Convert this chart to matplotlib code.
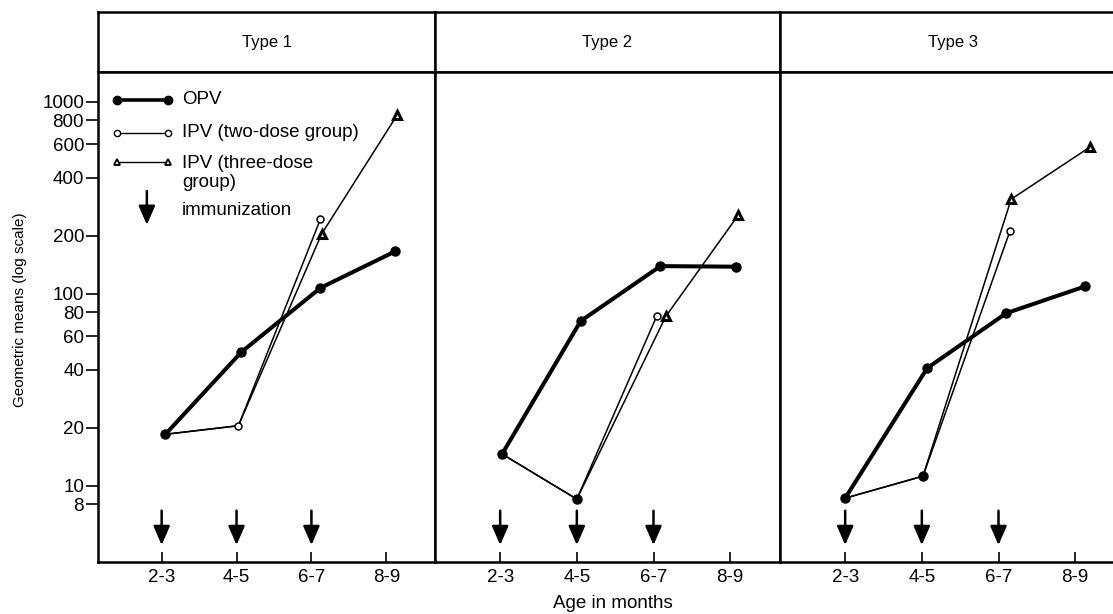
import matplotlib.pyplot as plt

plt.rcParams['font.family'] = ['Liberation Sans', 'DejaVu Sans']

panel_titles = ['Type 1', 'Type 2', 'Type 3']
tick_ages = [2.5, 4.5, 6.5, 8.5]
tick_labels = ['2-3', '4-5', '6-7', '8-9']
immunization_ages = [2.5, 4.5, 6.5]
y_ticks = [8, 10, 20, 40, 60, 80, 100, 200, 400, 600, 800, 1000]

# mean age (months) and geometric mean titre, one list per type
opv_x = [[2.6, 4.63, 6.74, 8.74], [2.55, 4.6, 6.68, 8.66], [2.5, 4.64, 6.7, 8.76]]
opv_y = [[18.5, 49.6, 107, 166], [14.6, 71.9, 139, 138], [8.6, 40.9, 79, 109]]
ipv2_x = [[2.6, 4.55, 6.74], [2.55, 4.5, 6.58], [2.5, 4.53, 6.8]]
ipv2_y = [[18.5, 20.5, 244], [14.6, 8.5, 76], [8.6, 11.2, 212]]
ipv3_x = [[2.6, 4.55, 6.77, 8.79], [2.55, 4.5, 6.82, 8.71], [2.5, 4.53, 6.83, 8.89]]
ipv3_y = [[18.5, 20.5, 204, 851], [14.6, 8.5, 76, 256], [8.6, 11.2, 310, 580]]

W, H = 1113, 614
fig = plt.figure(figsize=(W / 100, H / 100), dpi=100)

panel_left = [98, 435, 780]
panel_width = [337, 345, 345]
top_px, head_px, bottom_px = 12, 72, 562

fs = 13.5
arrow_style = '-|>,head_length=1.15,head_width=0.5'

for i in range(3):
    l = panel_left[i] / W
    w = panel_width[i] / W
    # header box
    axh = fig.add_axes([l, 1 - head_px / H, w, (head_px - top_px) / H])
    axh.set_xticks([])
    axh.set_yticks([])
    for s in axh.spines.values():
        s.set_linewidth(1.8)
    axh.text(0.5, 0.5, panel_titles[i], ha='center', va='center', fontsize=12,
             transform=axh.transAxes)

    ax = fig.add_axes([l, 1 - bottom_px / H, w, (bottom_px - head_px) / H])
    ax.set_yscale('log')
    ax.set_xlim(0.8, 9.8)
    ax.set_ylim(4.0, 1425)
    for s in ax.spines.values():
        s.set_linewidth(1.8)

    ax.plot(ipv3_x[i], ipv3_y[i], color='black', lw=1.1)
    ax.plot(ipv2_x[i], ipv2_y[i], color='black', lw=1.1)
    ax.plot(ipv3_x[i][2:], ipv3_y[i][2:], ls='none', marker='^', ms=6,
            mfc='white', mec='black', mew=2.2)
    ax.plot(ipv2_x[i][2], ipv2_y[i][2], ls='none', marker='o', ms=5,
            mfc='white', mec='black', mew=1.1)
    if i == 0:
        ax.plot(ipv2_x[i][1], ipv2_y[i][1], ls='none', marker='o', ms=5,
                mfc='white', mec='black', mew=1.1)
    else:
        ax.plot(ipv2_x[i][1], ipv2_y[i][1], ls='none', marker='o', ms=6.5,
                color='black')
    ax.plot(opv_x[i], opv_y[i], color='black', lw=2.9, marker='o', ms=6.5)

    for a in immunization_ages:
        ax.annotate('', xy=(a, 4.9), xytext=(a, 7.4),
                    arrowprops=dict(arrowstyle=arrow_style, lw=1.8, color='black',
                                    shrinkA=0, shrinkB=0, mutation_scale=10))

    ax.set_xticks(tick_ages)
    ax.set_xticklabels(tick_labels, fontsize=fs)
    ax.tick_params(axis='x', direction='in', length=7, width=1.2, pad=5)
    ax.minorticks_off()
    if i == 0:
        ax.set_yticks(y_ticks)
        ax.set_yticklabels([str(v) for v in y_ticks], fontsize=fs)
        ax.tick_params(axis='y', direction='out', length=9, width=1.2, pad=1)
    else:
        ax.set_yticks([])
    ax.yaxis.set_minor_locator(plt.NullLocator())

    if i == 0:
        t = ax.transAxes
        ax.plot([0.056, 0.208], [0.943, 0.943], color='black', lw=2.6,
                marker='o', ms=6, transform=t, clip_on=False)
        ax.plot([0.056, 0.208], [0.876, 0.876], color='black', lw=1.0,
                marker='o', ms=4.5, mfc='white', transform=t)
        ax.plot([0.056, 0.208], [0.816, 0.816], color='black', lw=1.0,
                marker='^', ms=5, mfc='white', mew=1.3, transform=t)
        ax.text(0.249, 0.943, 'OPV', fontsize=fs, va='center', transform=t)
        ax.text(0.249, 0.876, 'IPV (two-dose group)', fontsize=fs, va='center',
                transform=t)
        ax.text(0.249, 0.831, 'IPV (three-dose\ngroup)', fontsize=fs, va='top',
                linespacing=1.2, transform=t)
        ax.text(0.249, 0.718, 'immunization', fontsize=fs, va='center', transform=t)
        ax.annotate('', xy=(0.145, 0.688), xytext=(0.145, 0.757),
                    xycoords='axes fraction',
                    arrowprops=dict(arrowstyle=arrow_style, lw=1.8, color='black',
                                    shrinkA=0, shrinkB=0, mutation_scale=10))

fig.text(20 / W, 1 - 310 / H, 'Geometric means (log scale)', rotation=90,
         ha='center', va='center', fontsize=11)
fig.text(613 / W, 1 - 604 / H, 'Age in months', ha='center', va='center', fontsize=fs)

fig.savefig('out.png', dpi=100)
